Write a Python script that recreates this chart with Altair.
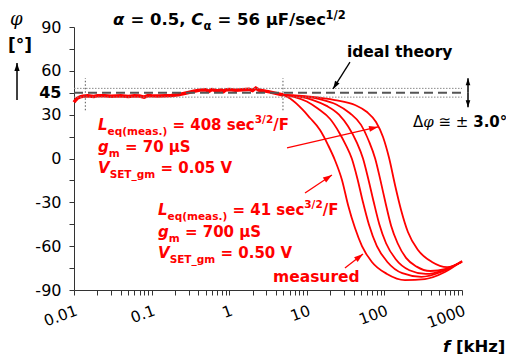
import math
import altair as alt
import pandas as pd

# ---- measured phase response (frequency in kHz, phase in degrees) ----
# low-frequency part, where the five sweeps lie on top of each other
band_f = [0.0100, 0.0105, 0.0110, 0.0120, 0.0130, 0.0150, 0.0180, 0.0200, 0.0250, 0.0300,
          0.0350, 0.0400, 0.0500, 0.0600, 0.0700, 0.0800, 0.0900, 0.1000, 0.1200, 0.1500,
          0.1800, 0.2200, 0.2800, 0.3500, 0.4200, 0.5000, 0.5500, 0.6000, 0.7000, 0.8000,
          0.8500, 0.9000, 1.0000, 1.2000, 1.5000, 1.8000, 2.0000, 2.2000, 2.4000, 2.8000,
          3.3000, 4.0000, 5.0000]
band_phi = [38.5, 40.0, 41.2, 42.2, 42.6, 42.9, 42.5, 42.9, 43.0, 42.6,
            42.8, 43.0, 42.5, 43.0, 42.8, 42.0, 43.1, 42.9, 42.7, 43.0,
            43.1, 43.6, 44.8, 46.0, 46.8, 47.0, 46.0, 47.2, 46.2, 47.0,
            45.9, 46.9, 47.2, 46.7, 47.0, 47.3, 46.5, 48.2, 46.9, 46.3,
            45.6, 44.6, 43.5]

# high-frequency roll-off of each sweep, L_eq = 41 sec^3/2/F (left) ... 408 sec^3/2/F (right)
roll1_f = [5, 6.1, 8.9, 11, 14.8, 18.8, 23, 28.4, 34, 41.8, 51.4, 69, 108, 184, 333, 603, 1000]
roll1_phi = [43.5, 41.0, 33.2, 27.7, 19.5, 9.2, -1.0, -14.7, -31.8, -47.6, -59.9, -70.8, -79.0, -83.2, -82.5, -77.7, -70.2]
roll2_f = [5, 7, 10, 14, 20, 26, 32, 38, 45, 53, 63, 80, 110, 170, 300, 550, 1000]
roll2_phi = [43.5, 42.0, 39.0, 34.0, 27.0, 18.0, 9.0, 0.0, -14.0, -30.0, -45.0, -60.0, -71.0, -78.5, -81.0, -77.5, -70.5]
roll3_f = [5, 8, 12, 18, 26, 34, 44, 53, 62, 73, 86, 105, 140, 210, 340, 580, 1000]
roll3_phi = [43.5, 42.3, 40.0, 36.0, 30.0, 22.0, 11.0, 0.0, -14.0, -30.0, -45.0, -58.0, -69.0, -76.5, -79.0, -76.5, -70.5]
roll4_f = [5, 9, 15, 24, 36, 50, 63, 76, 89, 104, 122, 148, 190, 260, 390, 620, 1000]
roll4_phi = [43.5, 42.4, 40.5, 37.0, 31.0, 23.0, 12.0, 0.0, -15.0, -31.0, -46.0, -58.0, -68.0, -74.0, -77.0, -75.5, -70.5]
roll5_f = [5, 11, 23, 41.8, 59.7, 78, 96, 115, 137, 164, 201, 271, 410, 641, 1000]
roll5_phi = [43.5, 42.3, 40.0, 36.6, 31.8, 25.0, 14.7, 0.3, -18.1, -35.2, -50.3, -62.6, -70.8, -74.3, -70.8]

# ideal constant-phase element and the tolerance band
ideal_phi = 45.0
tolerance = 3.0
band_edges = [0.014, 4.93]

# axis ticks
y_major = [90, 60, 45, 30, 0, -30, -60, -90]
y_minor = [75, 15, -15, -45, -75]
x_decades = [0.01, 0.1, 1, 10, 100, 1000]

# ---- plot geometry ----
F_DOMAIN = [0.01, 1000]
PHI_DOMAIN = [-90, 90]
W, H = 388, 263
PX_PER_DEC = W / math.log10(F_DOMAIN[1] / F_DOMAIN[0])
PX_PER_DEG = H / (PHI_DOMAIN[1] - PHI_DOMAIN[0])

xs = alt.Scale(type="log", domain=F_DOMAIN, nice=False)
ys = alt.Scale(domain=PHI_DOMAIN, nice=False, zero=False)

RED = "#ff0000"
BLACK = "#000000"
AXIS_GREY = "#333333"


def offset(f, phi, dx_px, dy_px):
    """Move a data point by a screen offset (pixels, y downwards)."""
    return f * 10 ** (dx_px / PX_PER_DEC), phi - dy_px / PX_PER_DEG


def heading(f0, p0, f1, p1):
    dx = math.log10(f1 / f0) * PX_PER_DEC
    dy = -(p1 - p0) * PX_PER_DEG
    return math.degrees(math.atan2(dx, -dy)) % 360


# ---- axes (shared by every layer so that they merge into one) ----
x_ticks = []
for e in range(-2, 3):
    for m in range(1, 10):
        x_ticks.append(m * 10 ** e)
x_ticks.append(1000)

decade_list = ",".join(str(v) for v in x_decades)
major_list = ",".join(str(v) for v in y_major)
x_axis = alt.Axis(
    values=x_ticks,
    labelExpr=f"indexof([{decade_list}], datum.value) >= 0 ? toString(datum.value) : ''",
    labelAngle=-20, labelAlign="right", labelBaseline="top", labelPadding=8,
    labelFont="DejaVu Sans", labelFontSize=15.5, labelColor=BLACK,
    labelOverlap=False, labelFlush=False, labelBound=False,
    tickSize=5, tickColor=AXIS_GREY, domainColor=AXIS_GREY, grid=False, title=None,
)
y_axis = alt.Axis(
    values=sorted(y_major + y_minor, reverse=True),
    labelExpr=f"indexof([{major_list}], datum.value) >= 0 ? toString(datum.value) : ''",
    labelFont="DejaVu Sans", labelFontSize=16, labelColor=BLACK, labelPadding=8,
    labelFontWeight={"condition": {"test": "datum.value == 45", "value": "bold"}, "value": "normal"},
    labelOverlap=False, labelFlush=False, labelBound=False,
    tickSize=5, tickColor=AXIS_GREY, domainColor=AXIS_GREY, grid=False, title=None,
)


def X(field):
    return alt.X(field, scale=xs, axis=x_axis)


def Y(field):
    return alt.Y(field, scale=ys, axis=y_axis)


# ---- curves ----
curve_rows = []
for name, fs, ps in [("r1", roll1_f, roll1_phi), ("r2", roll2_f, roll2_phi),
                     ("r3", roll3_f, roll3_phi), ("r4", roll4_f, roll4_phi),
                     ("r5", roll5_f, roll5_phi)]:
    curve_rows += [dict(sweep=name, f=f, phi=p) for f, p in zip(fs, ps)]
curves = pd.DataFrame(curve_rows)
band = pd.DataFrame(dict(f=band_f, phi=band_phi))

band_layer = alt.Chart(band).mark_line(color=RED, strokeWidth=3.5).encode(
    x=X("f:Q"), y=Y("phi:Q"), order="f:Q")
roll_layer = alt.Chart(curves).mark_line(color=RED, strokeWidth=1.8, interpolate="monotone").encode(
    x=X("f:Q"), y=Y("phi:Q"), detail="sweep:N", order="f:Q")

# ---- reference lines ----
hlines = pd.DataFrame(dict(f0=[F_DOMAIN[0]] * 3, f1=[F_DOMAIN[1]] * 3,
                           phi=[ideal_phi + tolerance, ideal_phi - tolerance, ideal_phi],
                           kind=["tol", "tol", "ideal"]))
tol_layer = alt.Chart(hlines).transform_filter("datum.kind == 'tol'").mark_rule(
    color="#8a8a8a", strokeWidth=1, strokeDash=[1.5, 1.5]).encode(
    x=X("f0:Q"), x2="f1:Q", y=Y("phi:Q"))
ideal_layer = alt.Chart(hlines).transform_filter("datum.kind == 'ideal'").mark_rule(
    color="#555555", strokeWidth=2, strokeDash=[9, 5]).encode(
    x=X("f0:Q"), x2="f1:Q", y=Y("phi:Q"))
vlines = pd.DataFrame(dict(f=band_edges, lo=[33, 33], hi=[55, 55]))
edge_layer = alt.Chart(vlines).mark_rule(color="#555555", strokeWidth=1, strokeDash=[1.5, 2]).encode(
    x=X("f:Q"), y=Y("lo:Q"), y2="hi:Q")

# ---- arrows: tail (f0, p0) -> tip (f1, p1) ----
arrow_specs = [
    (5.56, 7.2, 82.8, 21.6, RED, 1.3, 9),
    (9.48, -23.6, 21.1, -11.3, RED, 1.3, 9),
    (31.0, -74.9, 53.0, -65.4, RED, 1.3, 9),
    (36.0, 66.0, 21.8, 47.6, BLACK, 1.3, 8),
    (1195, 45.0, 1195, 55.0, BLACK, 1.5, 7),
    (1195, 45.0, 1195, 35.0, BLACK, 1.5, 7),
    (0.001843, 40.0, 0.001843, 65.4, BLACK, 1.5, 8),
]
arrows = pd.DataFrame([
    dict(f0=a, p0=b, f1=c, p1=d, color=col, w=w, hs=(2 * hl) ** 2, ang=heading(a, b, c, d))
    for a, b, c, d, col, w, hl in arrow_specs
])
HEAD = "M0,0L-0.33,1L0.33,1Z"
shaft_layer = alt.Chart(arrows).mark_rule().encode(
    x=X("f0:Q"), y=Y("p0:Q"), x2="f1:Q", y2="p1:Q",
    color=alt.Color("color:N", scale=None),
    strokeWidth=alt.StrokeWidth("w:Q", scale=None),
)
head_layer = alt.Chart(arrows).mark_point(shape=HEAD, filled=True, opacity=1, strokeWidth=0).encode(
    x=X("f1:Q"), y=Y("p1:Q"),
    angle=alt.Angle("ang:Q", scale=None),
    size=alt.Size("hs:Q", scale=None),
    color=alt.Color("color:N", scale=None),
)

# ---- text with sub- and superscripts, laid out run by run ----
W_BOLD = {" ": 348, "(": 457, ")": 457, ".": 380, ",": 380, "/": 365, "=": 838, "_": 500,
          "[": 457, "]": 457, "°": 500, "-": 415,
          "C": 734, "E": 683, "F": 683, "H": 837, "L": 637, "S": 720, "T": 682, "V": 774,
          "a": 675, "c": 593, "d": 716, "e": 678, "f": 435, "g": 716, "h": 712, "i": 343,
          "k": 665, "l": 343, "m": 1042, "o": 687, "q": 716, "r": 493, "s": 595, "t": 478,
          "u": 712, "y": 652, "z": 582, "μ": 715, "α": 716}
W_BOLD.update({d: 696 for d in "0123456789"})
W_REG = {" ": 318, ".": 318, "-": 361, "°": 500, "Δ": 684, "±": 838, "≅": 838}
W_REG.update({d: 636 for d in "0123456789"})
W_SERIF_IT = {"φ": 700, " ": 318}
TABLES = {"b": W_BOLD, "bi": W_BOLD, "r": W_REG, "si": W_SERIF_IT}
FACES = {
    "b": dict(font="DejaVu Sans", fontWeight="bold", fontStyle="normal"),
    "bi": dict(font="DejaVu Sans", fontWeight="bold", fontStyle="italic"),
    "r": dict(font="DejaVu Sans", fontWeight="normal", fontStyle="normal"),
    "si": dict(font="DejaVu Serif", fontWeight="normal", fontStyle="italic"),
}


def advance(text, size, face):
    table = TABLES[face]
    return sum(table.get(ch, 620) for ch in text) * size / 1000


def text_line(f, phi, color, runs):
    rows, x = [], 0.0
    for text, size, face, shift in runs:
        lead = len(text) - len(text.lstrip(" "))
        x += advance(" " * lead, size, face)
        ff, pp = offset(f, phi, x, shift)
        rows.append(dict(f=ff, phi=pp, text=text.strip(" "), size=size, face=face, color=color))
        x += advance(text.lstrip(" "), size, face)
    return rows


def param_block(f, phi, leq, gm, vset):
    step = 21.5 / PX_PER_DEG
    rows = []
    rows += text_line(f, phi, RED, [("L", 15, "bi", 0), ("eq(meas.)", 10.5, "b", 5),
                                    (f" = {leq} sec", 15, "b", 0), ("3/2", 10.5, "b", -7),
                                    ("/F", 15, "b", 0)])
    rows += text_line(f, phi - step, RED, [("g", 15, "bi", 0), ("m", 10.5, "b", 5),
                                           (f" = {gm} μS", 15, "b", 0)])
    rows += text_line(f, phi - 2 * step, RED, [("V", 15, "bi", 0), ("SET_gm", 10.5, "b", 5),
                                               (f" = {vset} V", 15, "b", 0)])
    return rows


labels = []
labels += text_line(0.0318, 91.4, BLACK, [("α", 16.5, "bi", 0), (" = 0.5, ", 16.5, "b", 0),
                                          ("C", 16.5, "bi", 0), ("α", 11.5, "b", 5),
                                          (" = 56 μF/sec", 16.5, "b", 0), ("1/2", 11.5, "b", -6)])
labels += param_block(0.0204, 19.5, "408", "70", "0.05")
labels += param_block(0.121, -38.7, "41", "700", "0.50")
labels += text_line(3.67, -84.5, RED, [("measured", 15.5, "b", 0)])
labels += text_line(32.9, 69.5, BLACK, [("ideal theory", 15.5, "b", 0)])
labels += text_line(233.7, 21.6, BLACK, [("Δ", 15, "r", 0), ("φ", 15, "si", 0),
                                         (" ≅ ± ", 15, "r", 0), ("3.0°", 15, "b", 0)])
labels += text_line(569, -132.4, BLACK, [("f", 16.5, "bi", 0), (" [kHz]", 16.5, "b", 0)])
labels += text_line(0.0015, 91.4, BLACK, [("φ", 18, "si", 0)])
labels += text_line(0.00141, 73.6, BLACK, [("[°]", 17, "b", 0)])
labels = pd.DataFrame(labels)

text_layers = []
for face, style in FACES.items():
    sub = labels[labels["face"] == face]
    if sub.empty:
        continue
    text_layers.append(
        alt.Chart(sub).mark_text(align="left", baseline="alphabetic", **style).encode(
            x=X("f:Q"), y=Y("phi:Q"),
            text="text:N",
            size=alt.Size("size:Q", scale=None),
            color=alt.Color("color:N", scale=None),
        )
    )

chart = alt.layer(
    band_layer, roll_layer, tol_layer, ideal_layer, edge_layer,
    shaft_layer, head_layer, *text_layers,
).properties(
    width=W, height=H,
    autosize=alt.AutoSizeParams(type="none"),
    padding={"left": 74, "top": 27, "right": 44, "bottom": 72},
    background="white",
).configure_view(stroke=None)

chart.save("out.html", embed_options={"renderer": "svg", "actions": False})
